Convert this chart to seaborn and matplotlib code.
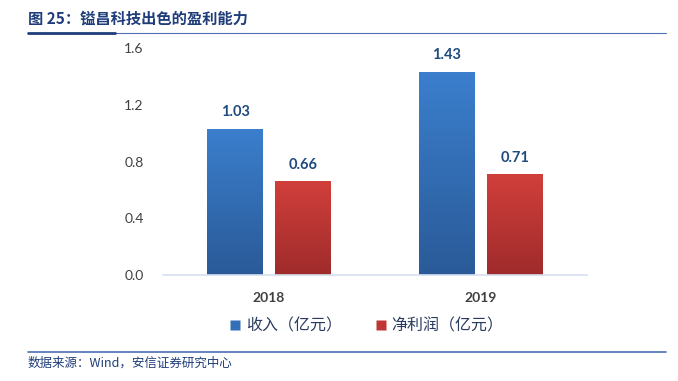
import numpy as np
import pandas as pd
import seaborn as sns
import matplotlib.pyplot as plt
from matplotlib.colors import LinearSegmentedColormap
from matplotlib.lines import Line2D

years = ["2018", "2019"]
revenue = [1.03, 1.43]
net_profit = [0.66, 0.71]
series = ["收入（亿元）", "净利润（亿元）"]
yticks = [0.0, 0.4, 0.8, 1.2, 1.6]

df = pd.DataFrame({
    "year": years * 2,
    "value": revenue + net_profit,
    "series": [series[0]] * 2 + [series[1]] * 2,
})

sns.set_style("white")
plt.rcParams['font.family'] = ['Noto Sans CJK SC', 'DejaVu Sans']

fig = plt.figure(figsize=(6.78, 3.81), dpi=100)
ax = fig.add_axes([0.2405, 0.278, 0.625, 0.596])

top_cols = {series[0]: "#3b7fcd", series[1]: "#d13f3b"}
bot_cols = {series[0]: "#2a5a98", series[1]: "#9f2b2b"}
mid_cols = {series[0]: "#3470b8", series[1]: "#bf3634"}

sns.barplot(data=df, x="year", y="value", hue="series", palette=mid_cols,
            width=0.64, gap=0.175, ax=ax, legend=False, saturation=1)

# gradient fill inside each bar
for patch, s in zip(ax.patches, [series[0]] * 2 + [series[1]] * 2):
    x0, y0 = patch.get_x(), patch.get_y()
    w, h = patch.get_width(), patch.get_height()
    if h <= 0:
        continue
    cmap = LinearSegmentedColormap.from_list("g", [bot_cols[s], top_cols[s]])
    grad = np.linspace(0, 1, 256).reshape(-1, 1)
    im = ax.imshow(grad, cmap=cmap, aspect="auto", origin="lower",
                   extent=[x0, x0 + w, y0, y0 + h], zorder=patch.get_zorder() + 0.1)
    im.set_clip_path(patch)
    patch.set_edgecolor("none")

    ax.annotate(f"{h:.2f}", (x0 + w / 2, h), xytext=(0, 7), textcoords="offset points",
                ha="center", va="bottom", fontsize=10.5, fontweight="bold",
                color="#1f4a7d", family=["Lato", "DejaVu Sans"])

ax.set_xlim(-0.5, 1.5)
ax.set_ylim(0, 1.6)
ax.set_yticks(yticks)
ax.set_yticklabels([f"{v:.1f}" for v in yticks])
ax.set_xlabel("")
ax.set_ylabel("")
for sp in ["left", "right", "top"]:
    ax.spines[sp].set_visible(False)
ax.spines["bottom"].set_color("#d6dff0")
ax.spines["bottom"].set_linewidth(1.2)
ax.tick_params(axis="y", length=0, pad=14, labelsize=10, labelcolor="#404040")
ax.tick_params(axis="x", length=0, pad=12, labelsize=10, labelcolor="#404040")
for lab in ax.get_yticklabels():
    lab.set_family(["Lato", "DejaVu Sans"])
for lab in ax.get_xticklabels():
    lab.set_family(["Lato", "DejaVu Sans"])
    lab.set_fontweight("bold")

handles = [Line2D([], [], marker="s", linestyle="none", markersize=7.5,
                  markerfacecolor=mid_cols[s], markeredgecolor="none", label=s)
           for s in series]
fig.legend(handles=handles, loc="center", bbox_to_anchor=(0.533, 0.145), ncol=2,
           frameon=False, fontsize=11.5, handletextpad=-0.3, columnspacing=1.4,
           labelcolor="#2a3b60")

# title and rules
fig.text(0.041, 0.952, "图 25：镒昌科技出色的盈利能力", fontsize=11, fontweight="bold",
         color="#1f3d7a", va="center", ha="left")
fig.add_artist(Line2D([0.041, 0.982], [0.913, 0.913], color="#4a6fb5", lw=0.8))
fig.add_artist(Line2D([0.041, 0.17], [0.913, 0.913], color="#1f3d7a", lw=2))
fig.add_artist(Line2D([0.041, 0.982], [0.076, 0.076], color="#4a6fb5", lw=1.2))
fig.text(0.041, 0.048, "数据来源：Wind，安信证券研究中心", fontsize=9,
         color="#1f3d7a", va="center", ha="left", style="italic")

fig.savefig("out.png", dpi=100)
